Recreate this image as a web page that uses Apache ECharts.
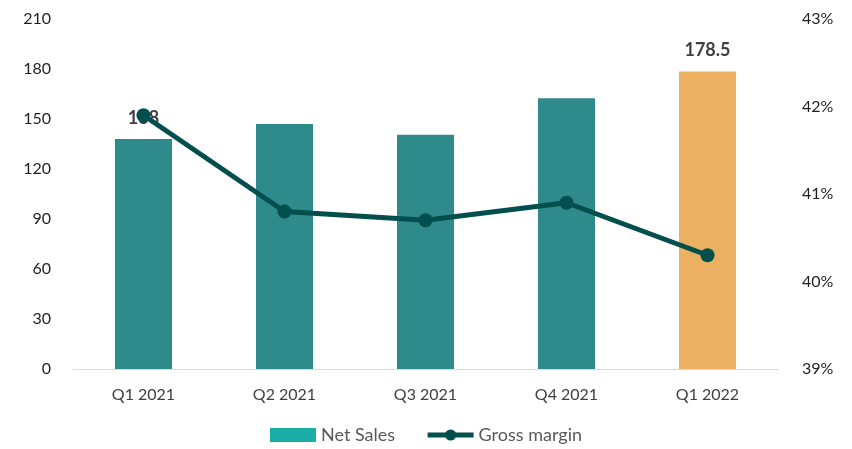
<!DOCTYPE html>
<html>
<head>
<meta charset="utf-8">
<script src="https://cdn.jsdelivr.net/npm/echarts@6/dist/echarts.min.js"></script>
<style>
    html, body { margin: 0; padding: 0; background: #fff; }
    #chart { width: 852px; height: 449px; }
</style>
</head>
<body>
<div id="chart"></div>
<script>
var quarters = ['Q1 2021', 'Q2 2021', 'Q3 2021', 'Q4 2021', 'Q1 2022'];
var netSales = [138, 147, 140.5, 162.5, 178.5];
var grossMargin = [41.9, 40.8, 40.7, 40.9, 40.3];
var labelledBars = [0, 4];

var dom = document.getElementById('chart');
var myChart = echarts.init(dom, null, { renderer: 'canvas' });

var fontName = 'Lato, "Open Sans", sans-serif';

var barData = netSales.map(function (v, i) {
    var isLast = i === netSales.length - 1;
    return {
        value: v,
        itemStyle: { color: isLast ? '#ebb062' : '#2e8a8b' },
        label: { show: labelledBars.indexOf(i) >= 0 }
    };
});

var option = {
    animation: false,
    textStyle: { fontFamily: fontName },
    grid: { left: 73, right: 74, top: 19, bottom: 80 },
    legend: {
        bottom: 0,
        left: 'center',
        itemGap: 30,
        textStyle: { color: '#595959', fontSize: 18, fontFamily: fontName },
        data: [
            { name: 'Net Sales', icon: 'rect', itemStyle: { color: '#1aada5' } },
            { name: 'Gross margin', lineStyle: { width: 5 } }
        ],
        itemWidth: 46,
        itemHeight: 14
    },
    xAxis: {
        type: 'category',
        data: quarters,
        axisTick: { show: false },
        axisLine: { lineStyle: { color: '#d9d9d9', width: 1 } },
        axisLabel: { color: '#404040', fontSize: 16, margin: 18 }
    },
    yAxis: [
        {
            type: 'value',
            min: 0, max: 210, interval: 30,
            splitLine: { show: false },
            axisLine: { show: false },
            axisLabel: { color: '#1f1f1f', fontSize: 16, margin: 22 }
        },
        {
            type: 'value',
            min: 39, max: 43, interval: 1,
            splitLine: { show: false },
            axisLine: { show: false },
            axisLabel: { color: '#1f1f1f', fontSize: 16, margin: 24, formatter: '{value}%' }
        }
    ],
    series: [
        {
            name: 'Net Sales',
            type: 'bar',
            data: barData,
            barWidth: 57,
            z: 2,
            itemStyle: { color: '#2e8a8b' },
            label: {
                position: 'top',
                distance: 12,
                color: '#404040',
                fontWeight: 'bold',
                fontSize: 18
            }
        },
        {
            name: 'Gross margin',
            type: 'line',
            yAxisIndex: 1,
            data: grossMargin,
            z: 5,
            symbol: 'circle',
            symbolSize: 14,
            lineStyle: { color: '#034f4e', width: 5 },
            itemStyle: { color: '#034f4e' }
        }
    ]
};

myChart.setOption(option);
window.addEventListener('resize', myChart.resize);
</script>
</body>
</html>
